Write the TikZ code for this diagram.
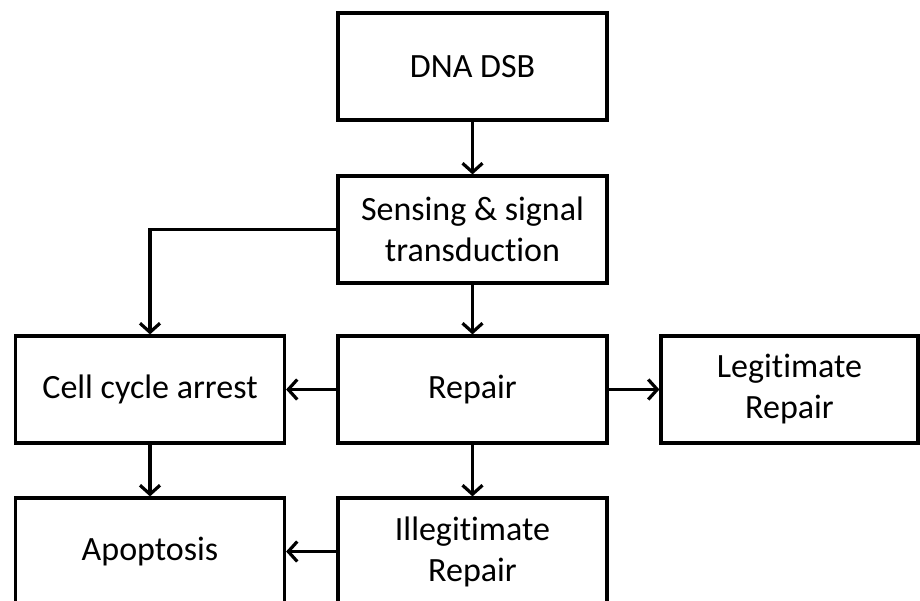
\documentclass[tikz,border=0pt]{standalone}
\usepackage{fontspec}
\setmainfont[Ligatures=NoCommon]{Carlito}
\usetikzlibrary{arrows.meta}

\begin{document}
\begin{tikzpicture}[
            x=1pt, y=-1pt,
            box/.style={
                rectangle,
                draw,
                line width=3.2pt,
                minimum width=269pt,
                minimum height=107pt,
                align=center,
                inner sep=0pt,
                font=\fontsize{34}{41}\selectfont
            },
            link/.style={
                line width=3.2pt,
                -{Straight Barb[length=9pt,width=20pt,line width=3.2pt]}
            }
        ]

            \useasboundingbox (0, 0) rectangle (920, 600);

            \node[box] (dsb) at (472.5, 66.5) {DNA DSB};
            \node[box] (sense) at (472.5, 229.5) {Sensing \& signal\\transduction};

            \node[box] (arrest) at (150, 389.5) {Cell cycle arrest};
            \node[box] (repair) at (472.5, 389.5) {Repair};
            \node[box, minimum width=257pt] (legit) at (789.5, 389.5) {Legitimate\\Repair};

            \node[box] (apopt) at (150, 551.5) {Apoptosis};
            \node[box] (illegit) at (472.5, 551.5) {Illegitimate\\Repair};

            \draw[link] (dsb) -- (sense);
            \draw[link] (sense) -- (repair);
            \draw[link] (sense.west) -| (arrest.north);

            \draw[link] (repair) -- (arrest);
            \draw[link] (repair) -- (legit);
            \draw[link] (repair) -- (illegit);

            \draw[link] (arrest) -- (apopt);
            \draw[link] (illegit) -- (apopt);

        \end{tikzpicture}
\end{document}
